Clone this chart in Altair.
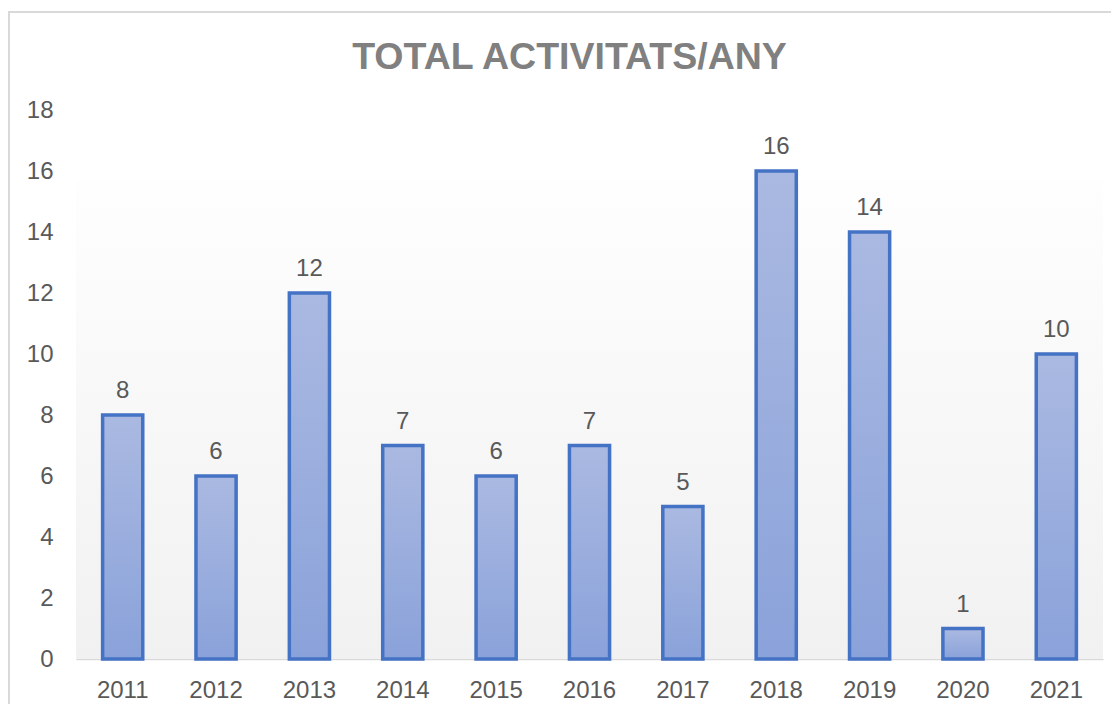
import altair as alt
import pandas as pd

years = ["2011", "2012", "2013", "2014", "2015", "2016", "2017", "2018", "2019", "2020", "2021"]
values = [8, 6, 12, 7, 6, 7, 5, 16, 14, 1, 10]
y_ticks = [0, 2, 4, 6, 8, 10, 12, 14, 16, 18]

df = pd.DataFrame({"year": years, "value": values})

W, H = 1027, 549
FONT = "Liberation Sans"

x_enc = alt.X("year:N", sort=years,
              scale=alt.Scale(paddingInner=0.57, paddingOuter=0.285),
              axis=alt.Axis(title=None, labelFontSize=24, labelColor="#595959", labelFont=FONT,
                            labelPadding=19, ticks=False, domainColor="#d9d9d9", domainWidth=1.5,
                            labelAngle=0))
y_scale = alt.Scale(domain=[0, 18], nice=False)

frame = alt.Chart(df).mark_rect(fill=None, stroke="#d9d9d9", strokeWidth=1.5).encode(
    x=alt.value(-67), x2=alt.value(W + 20), y=alt.value(-98), y2=alt.value(H + 80)
)

bg = alt.Chart(df).mark_rect(
    color=alt.Gradient(gradient="linear", x1=0, x2=0, y1=0, y2=1,
                       stops=[alt.GradientStop(offset=0, color="#fefefe"),
                              alt.GradientStop(offset=1, color="#f1f1f1")])
).encode(x=alt.value(0), x2=alt.value(W), y=alt.value(71), y2=alt.value(H))

bars = alt.Chart(df).mark_bar(
    stroke="#4472c4", strokeWidth=3.5,
    color=alt.Gradient(gradient="linear", x1=0, x2=0, y1=0, y2=1,
                       stops=[alt.GradientStop(offset=0, color="#aab9e1"),
                              alt.GradientStop(offset=1, color="#8aa2da")])
).encode(
    x=x_enc,
    y=alt.Y("value:Q", scale=y_scale,
            axis=alt.Axis(title=None, values=y_ticks, labelFontSize=24, labelColor="#595959",
                          labelFont=FONT, labelPadding=23, ticks=False, domain=False, grid=False))
)

labels = alt.Chart(df).mark_text(
    baseline="bottom", dy=-12, fontSize=24, color="#595959", font=FONT
).encode(
    x=alt.X("year:N", sort=years),
    y=alt.Y("value:Q", scale=y_scale),
    text=alt.Text("value:Q")
)

chart = alt.layer(frame, bg, bars, labels).properties(
    width=W, height=H,
    title=alt.TitleParams("TOTAL ACTIVITATS/ANY", fontSize=37.5, font=FONT, fontWeight="bold",
                          color="#808080", anchor="middle", offset=-65, dx=-20),
    autosize=alt.AutoSizeParams(type="none"),
    padding={"left": 68, "top": 102, "right": 8, "bottom": 45},
).configure_view(stroke=None)

chart.save("out.html", embed_options={"renderer": "svg", "actions": False})
